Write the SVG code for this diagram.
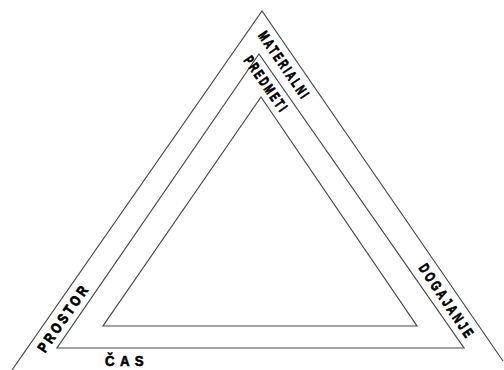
<svg xmlns="http://www.w3.org/2000/svg" width="504" height="370" viewBox="0 0 504 370">
<style>
.ln{fill:none;stroke:#4a4a4a;stroke-width:1.2}
.lb{font-family:"Liberation Sans",Arial,sans-serif;font-weight:bold;font-size:14.5px;fill:#000;stroke:#000;stroke-width:0.8;text-anchor:middle;letter-spacing:4px}
</style>
<rect width="504" height="370" fill="#fff"/>
<g id="triangles">
<polyline id="outer" class="ln" points="12,370 262,11 503,361"/>
<polygon id="middle" class="ln" points="259,54 57,348 464,348"/>
<polygon id="inner" class="ln" points="261,97 103,326 417,326"/>
</g>
<g id="labels">
<text id="materialni" class="lb" transform="translate(280.3,68.5) rotate(55.5)" textLength="80" lengthAdjust="spacingAndGlyphs">MATERIALNI</text>
<text id="predmeti" class="lb" transform="translate(262.3,87.6) rotate(55)" textLength="66" lengthAdjust="spacingAndGlyphs">PREDMETI</text>
<text id="dogajanje" class="lb" transform="translate(442.8,304.5) rotate(56)" textLength="88" lengthAdjust="spacingAndGlyphs">DOGAJANJE</text>
<text id="prostor" class="lb" transform="translate(67.7,320.6) rotate(-55.3)" textLength="80" lengthAdjust="spacingAndGlyphs">PROSTOR</text>
<text id="cas" class="lb" x="127" y="366" style="font-size:15px;letter-spacing:6px;stroke-width:0.6" textLength="44" lengthAdjust="spacingAndGlyphs">ČAS</text>
</g>
</svg>
